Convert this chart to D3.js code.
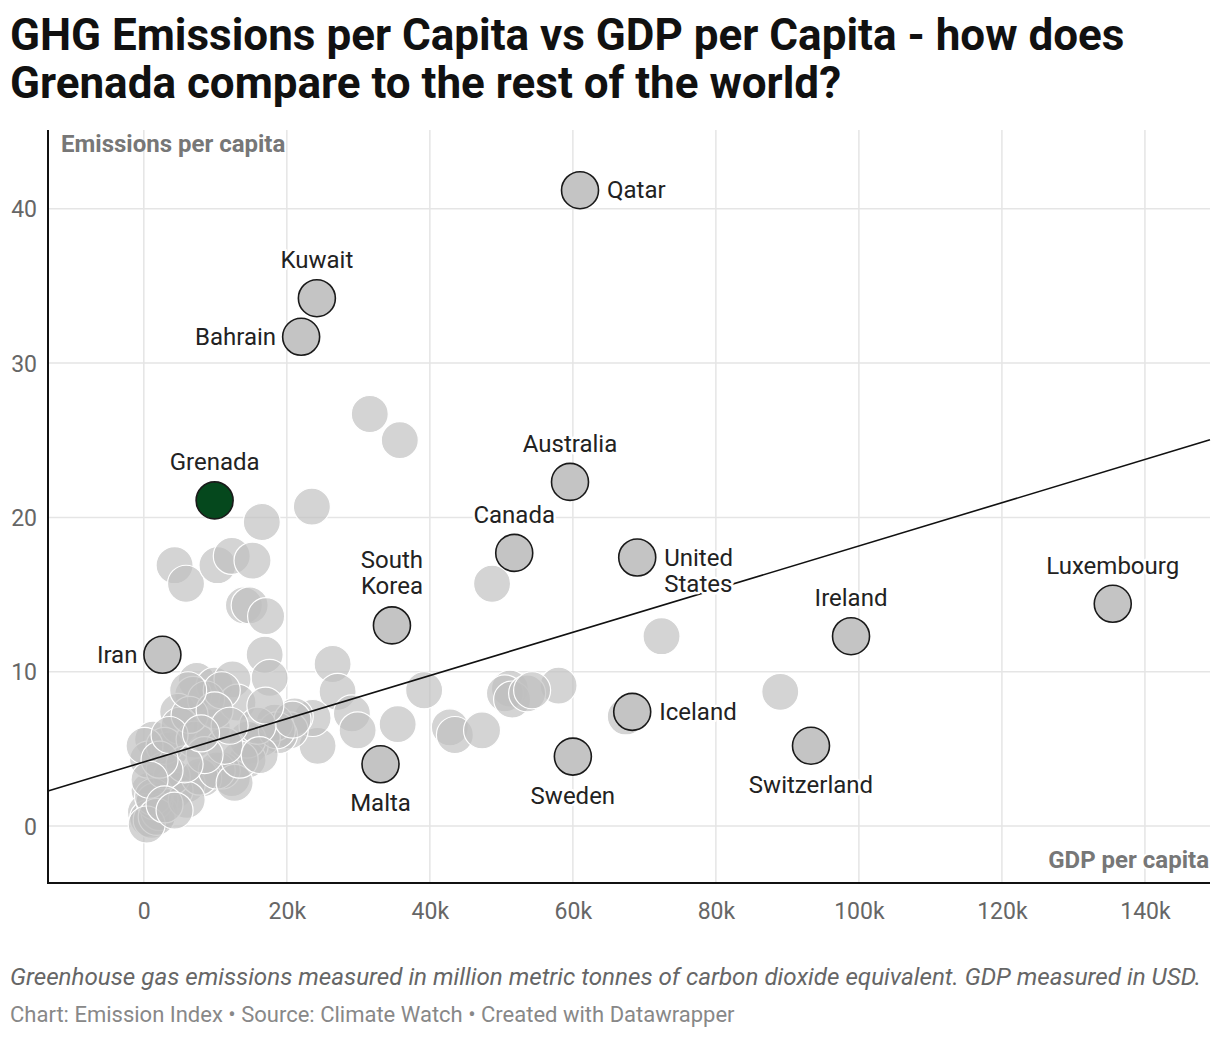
<!DOCTYPE html>
<html>
<head>
<meta charset="utf-8">
<script src="https://cdn.jsdelivr.net/npm/d3@7"></script>
<style>
  body { margin: 0; background: #fff; font-family: Roboto, "Noto Sans", sans-serif; }
  svg text { font-family: Roboto, "Noto Sans", sans-serif; }
</style>
</head>
<body>
<div id="chart"></div>
<script>
// gdp per capita in thousands USD, emissions per capita (t CO2e)
var bgGdp = [31.6,35.8,23.5,16.5,4.3,5.9,10.3,12.3,15.2,14.0,14.8,17.1,16.9,17.6,48.7,72.4,89.0,58.0,51.2,50.5,
  51.5,53.6,54.3,67.4,39.2,35.5,42.8,43.5,47.3,26.4,27.1,29.1,29.9,24.3,23.6,21.1,20.4,18.9,18.3,16.5,
  14.8,14.5,12.3,10.9,8.3,6.0,4.3,2.2,1.5,0.8,0.3,0.6,1.1,2.2,1.5,7.4,9.9,12.4,6.9,4.8,
  9.5,13.1,1.3,3.6,0.6,3.9,7.8,10.2,12.7,14.5,13.4,1.3,1.8,0.4,6.0,18.6,20.8,8.7,10.9,5.0,
  2.9,7.1,11.3,8.5,5.7,2.9,6.4,9.9,15.9,6.2,0.1,2.2,3.6,12.0,16.2,0.8,2.9,4.3,17.0,8.0];
var bgEm = [26.7,25.0,20.7,19.7,16.9,15.7,16.9,17.5,17.2,14.3,14.3,13.6,11.1,9.6,15.7,12.3,8.7,9.1,8.9,8.6,
  8.2,8.6,8.8,7.1,8.8,6.6,6.4,5.9,6.2,10.5,8.7,7.3,6.2,5.2,7.0,7.1,6.2,5.9,6.7,5.7,
  5.2,4.3,3.1,3.6,3.1,2.7,2.3,1.7,2.1,2.3,0.9,0.5,0.4,0.9,1.6,9.4,9.1,9.5,8.5,7.4,
  6.4,8.0,5.6,4.9,4.3,3.2,3.2,3.6,2.8,5.6,4.3,1.9,0.6,0.1,1.7,6.2,6.9,8.2,8.8,6.5,
  5.2,5.6,5.2,4.6,4.0,3.6,7.2,7.5,6.5,8.8,5.2,4.3,5.9,6.5,4.6,3.0,1.4,1.0,7.8,6.0];

var hlNames = ["Qatar","Kuwait","Bahrain","Australia","Canada","United States","South Korea","Iran",
  "Luxembourg","Ireland","Iceland","Switzerland","Sweden","Malta","Grenada"];
var hlGdp = [61.0,24.2,22.0,59.6,51.8,69.0,34.7,2.6,135.5,98.9,68.3,93.3,60.0,33.1,9.9];
var hlEm = [41.2,34.2,31.7,22.3,17.7,17.4,13.0,11.1,14.4,12.3,7.4,5.2,4.5,4.0,21.1];

var xTicks = [0,20,40,60,80,100,120,140];
var yTicks = [0,10,20,30,40];

// trend line: em = a + b * gdp(k)
var trendA = 4.15, trendB = 0.140;

var W = 1220, H = 1038;
var mLeft = 48, mRight = 1210, mTop = 130, mBottom = 883;

var x = d3.scaleLinear().domain([-13.4, 149.1]).range([mLeft, mRight]);
var y = d3.scaleLinear().domain([-3.69, 45.1]).range([mBottom, mTop]);

var svg = d3.select("#chart").append("svg")
  .attr("width", W).attr("height", H);

// title
var title = svg.append("text")
  .style("font-size", "44px").style("font-weight", "700").style("fill", "#111");
title.append("tspan").attr("x", 10).attr("y", 50)
  .text("GHG Emissions per Capita vs GDP per Capita - how does");
title.append("tspan").attr("x", 10).attr("y", 98)
  .text("Grenada compare to the rest of the world?");

// grid
svg.append("g").selectAll("line").data(xTicks).enter().append("line")
  .attr("x1", d => x(d)).attr("x2", d => x(d))
  .attr("y1", mTop).attr("y2", mBottom)
  .style("stroke", "#e5e5e5").style("stroke-width", 1.5);
svg.append("g").selectAll("line").data(yTicks).enter().append("line")
  .attr("x1", mLeft).attr("x2", mRight)
  .attr("y1", d => y(d)).attr("y2", d => y(d))
  .style("stroke", "#e5e5e5").style("stroke-width", 1.5);

// axes
var xAxis = d3.axisBottom(x).tickValues(xTicks).tickSize(0).tickPadding(0)
  .tickFormat(d => d === 0 ? "0" : d + "k");
var gx = svg.append("g").attr("transform", "translate(0," + mBottom + ")").call(xAxis);
gx.select(".domain").remove();
gx.selectAll("text").attr("y", 36).attr("dy", 0)
  .style("font-size", "23px").style("font-family", "Roboto").style("fill", "#666");

var yAxis = d3.axisLeft(y).tickValues(yTicks).tickSize(0).tickPadding(0);
var gy = svg.append("g").attr("transform", "translate(" + mLeft + ",0)").call(yAxis);
gy.select(".domain").remove();
gy.selectAll("text").attr("x", -11).attr("dy", "0.35em")
  .style("font-size", "23px").style("font-family", "Roboto").style("fill", "#666");

svg.append("line").attr("x1", mLeft).attr("x2", mLeft).attr("y1", mTop).attr("y2", mBottom + 1)
  .style("stroke", "#111").style("stroke-width", 2);
svg.append("line").attr("x1", mLeft - 1).attr("x2", mRight).attr("y1", mBottom).attr("y2", mBottom)
  .style("stroke", "#111").style("stroke-width", 2);

svg.append("text").attr("x", mLeft + 13).attr("y", 152)
  .style("font-size", "24px").style("font-weight", "700").style("fill", "#777")
  .text("Emissions per capita");
svg.append("text").attr("x", mRight - 1).attr("y", 868).attr("text-anchor", "end")
  .style("font-size", "24px").style("font-weight", "700").style("fill", "#777")
  .style("paint-order", "stroke").style("stroke", "#fff").style("stroke-width", 4)
  .text("GDP per capita");

var R = 18.5;
var plot = svg.append("g");

// background countries
var bg = bgGdp.map((g, i) => ({gdp: g, em: bgEm[i]}));
plot.selectAll(".bg").data(bg).enter().append("circle")
  .attr("class", "bg")
  .attr("cx", d => x(d.gdp)).attr("cy", d => y(d.em)).attr("r", R)
  .style("fill", "#bfbfbf").style("fill-opacity", 0.67)
  .style("stroke", "#fff").style("stroke-width", 1.2);

// trend line
var dom = x.domain();
plot.append("line")
  .attr("x1", x(dom[0])).attr("y1", y(trendA + trendB * dom[0]))
  .attr("x2", x(dom[1])).attr("y2", y(trendA + trendB * dom[1]))
  .style("stroke", "#111").style("stroke-width", 1.6);

// highlighted countries
var hl = hlNames.map((n, i) => ({name: n, gdp: hlGdp[i], em: hlEm[i]}));
plot.selectAll(".hl").data(hl).enter().append("circle")
  .attr("class", "hl")
  .attr("cx", d => x(d.gdp)).attr("cy", d => y(d.em)).attr("r", R)
  .style("fill", d => d.name === "Grenada" ? "#05481d" : "#c4c4c4")
  .style("stroke", "#1a1a1a").style("stroke-width", 1.6);

// label placement (where the label sits relative to the circle)
var place = {
  "Qatar": "right", "Kuwait": "top", "Bahrain": "left", "Australia": "top", "Canada": "top",
  "United States": "right2", "South Korea": "top2", "Iran": "left", "Luxembourg": "top",
  "Ireland": "top", "Iceland": "right", "Switzerland": "bottom", "Sweden": "bottom",
  "Malta": "bottom", "Grenada": "top"
};

plot.selectAll(".lab").data(hl).enter().append("text")
  .attr("class", "lab")
  .style("font-size", "24px").style("fill", "#222")
  .style("paint-order", "stroke").style("stroke", "#fff").style("stroke-width", 5)
  .style("stroke-linejoin", "round")
  .each(function(d) {
    var t = d3.select(this), cx = x(d.gdp), cy = y(d.em), p = place[d.name];
    if (p === "right") {
      t.attr("x", cx + 27).attr("y", cy + 8).attr("text-anchor", "start").text(d.name);
    } else if (p === "left") {
      t.attr("x", cx - 25).attr("y", cy + 8).attr("text-anchor", "end").text(d.name);
    } else if (p === "top") {
      t.attr("x", cx).attr("y", cy - 30).attr("text-anchor", "middle").text(d.name);
    } else if (p === "bottom") {
      t.attr("x", cx).attr("y", cy + 47).attr("text-anchor", "middle").text(d.name);
    } else if (p === "right2") {
      var w = d.name.split(" ");
      t.attr("text-anchor", "start");
      t.append("tspan").attr("x", cx + 27).attr("y", cy + 8).text(w[0]);
      t.append("tspan").attr("x", cx + 27).attr("y", cy + 34).text(w[1]);
    } else if (p === "top2") {
      var w2 = d.name.split(" ");
      t.attr("text-anchor", "middle");
      t.append("tspan").attr("x", cx).attr("y", cy - 57).text(w2[0]);
      t.append("tspan").attr("x", cx).attr("y", cy - 31).text(w2[1]);
    }
  });

// notes
svg.append("text").attr("x", 10).attr("y", 985)
  .style("font-size", "24.2px").style("font-style", "italic").style("fill", "#666")
  .text("Greenhouse gas emissions measured in million metric tonnes of carbon dioxide equivalent. GDP measured in USD.");
svg.append("text").attr("x", 10).attr("y", 1022)
  .style("font-size", "22px").style("fill", "#888")
  .text("Chart: Emission Index \u2022 Source: Climate Watch \u2022 Created with Datawrapper");
</script>
</body>
</html>
